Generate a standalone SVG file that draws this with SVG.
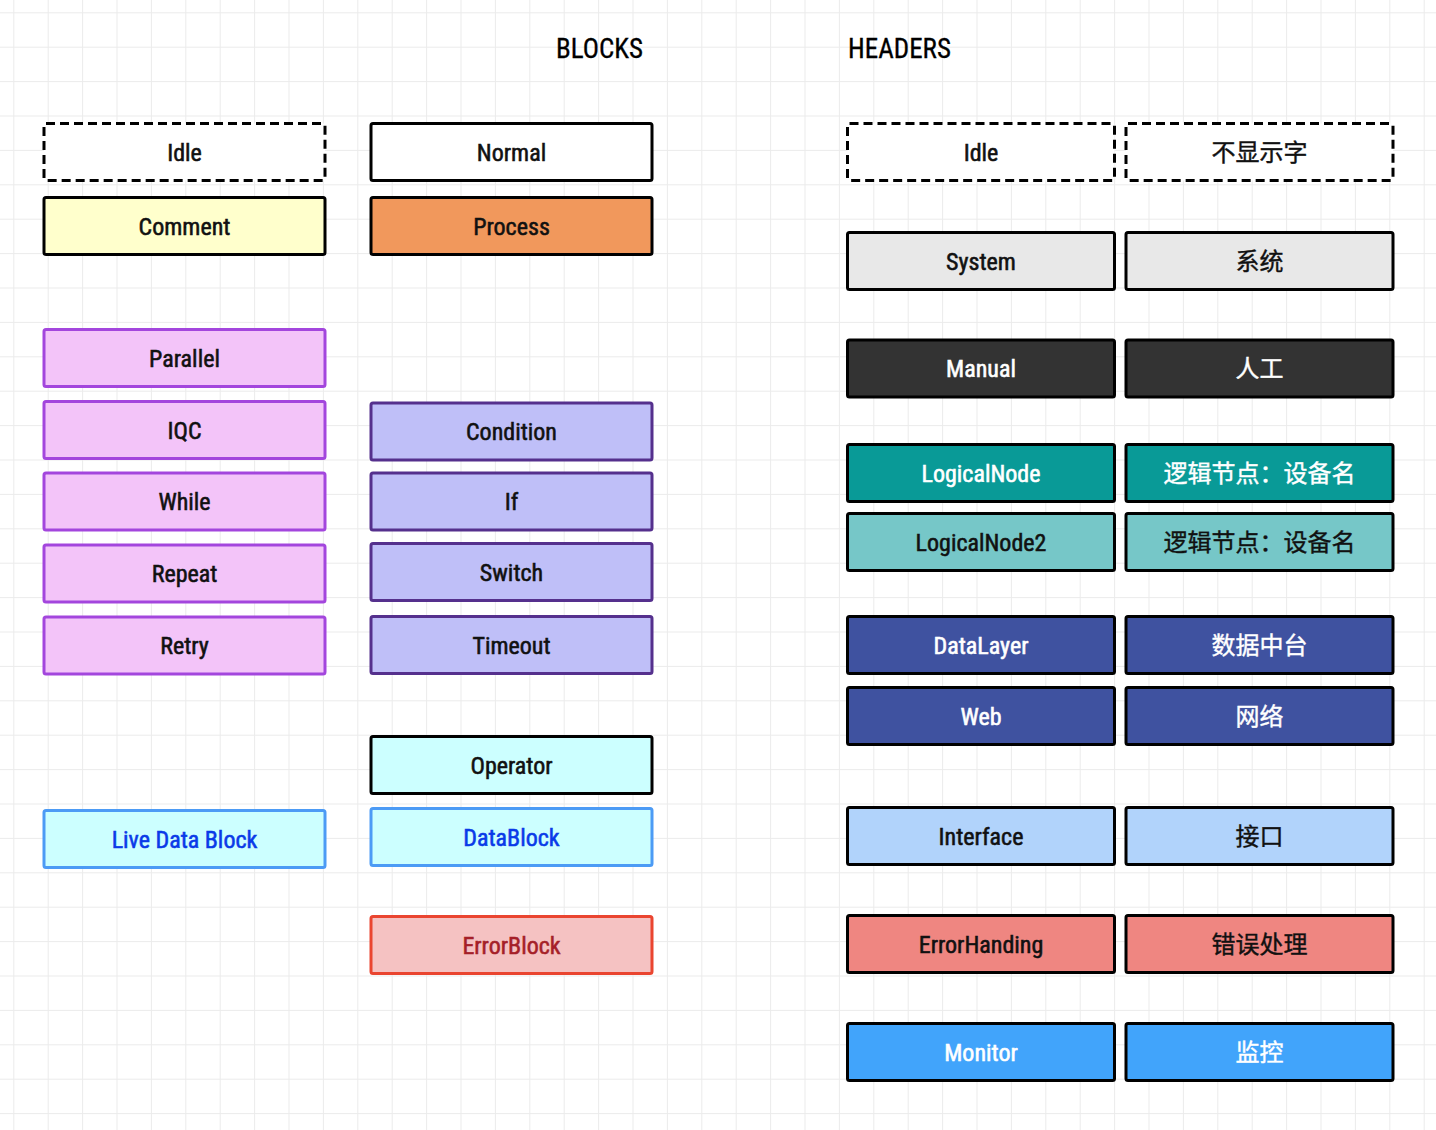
<svg xmlns="http://www.w3.org/2000/svg" width="1436" height="1130" viewBox="0 0 1436 1130">
<style>
.b{stroke:#000;stroke-width:3}
.d{fill:#fff;stroke:#000;stroke-width:3;stroke-dasharray:9 5}
text{font-family:"Roboto Condensed",Roboto,"Noto Sans CJK SC",sans-serif;font-size:24px;font-weight:400;text-anchor:middle;fill:#111;stroke:#111;stroke-width:0.55}
.cjk{font-family:"Noto Sans CJK SC",sans-serif;font-weight:400;font-size:24px;stroke-width:0.4}
.w{fill:#fff;stroke:#fff}
.bl{fill:#0a3ae8;stroke:#0a3ae8}
.rd{fill:#a51f28;stroke:#a51f28}
.t{font-size:27px;font-weight:400;text-anchor:start;fill:#000;stroke:#000;stroke-width:0.3}
.pk{fill:#f3c4f9;stroke:#a346dd;stroke-width:3}
.pu{fill:#bfbff8;stroke:#55308d;stroke-width:3}
</style>
<defs>
<pattern id="grid" x="13.3" y="12.3" width="34.4" height="34.4" patternUnits="userSpaceOnUse">
<path d="M0.5 0V34.4M0 0.5H34.4" stroke="#ebebeb" stroke-width="1" fill="none"/>
</pattern>
</defs>
<rect width="1436" height="1130" fill="#fff"/>
<rect width="1436" height="1130" fill="url(#grid)"/>
<text class="t" x="556" y="58">BLOCKS</text>
<text class="t" x="848" y="58">HEADERS</text>
<g id="connectors"/>
<g id="b-idle"><rect class="d" x="44" y="123.5" width="281" height="57" rx="2"/><text x="184.5" y="160.5">Idle</text></g>
<g id="b-comment"><rect class="b" fill="#ffffcc" x="44" y="197.5" width="281" height="57" rx="2"/><text x="184.5" y="234.5">Comment</text></g>
<g id="b-parallel"><rect class="pk" x="44" y="329.5" width="281" height="57" rx="2"/><text x="184.5" y="366.5">Parallel</text></g>
<g id="b-iqc"><rect class="pk" x="44" y="401.5" width="281" height="57" rx="2"/><text x="184.5" y="438.5">IQC</text></g>
<g id="b-while"><rect class="pk" x="44" y="473" width="281" height="57" rx="2"/><text x="184.5" y="510">While</text></g>
<g id="b-repeat"><rect class="pk" x="44" y="545" width="281" height="57" rx="2"/><text x="184.5" y="582">Repeat</text></g>
<g id="b-retry"><rect class="pk" x="44" y="617" width="281" height="57" rx="2"/><text x="184.5" y="654">Retry</text></g>
<g id="b-livedata"><rect fill="#ccffff" stroke="#4c9bf5" stroke-width="3" x="44" y="810.5" width="281" height="57" rx="2"/><text class="bl" x="184.5" y="847.5">Live Data Block</text></g>
<g id="b-normal"><rect class="b" fill="#fff" x="371" y="123.5" width="281" height="57" rx="2"/><text x="511.5" y="160.5">Normal</text></g>
<g id="b-process"><rect class="b" fill="#f1985c" x="371" y="197.5" width="281" height="57" rx="2"/><text x="511.5" y="234.5">Process</text></g>
<g id="b-condition"><rect class="pu" x="371" y="403" width="281" height="57" rx="2"/><text x="511.5" y="440">Condition</text></g>
<g id="b-if"><rect class="pu" x="371" y="473" width="281" height="57" rx="2"/><text x="511.5" y="510">If</text></g>
<g id="b-switch"><rect class="pu" x="371" y="543.5" width="281" height="57" rx="2"/><text x="511.5" y="580.5">Switch</text></g>
<g id="b-timeout"><rect class="pu" x="371" y="616.5" width="281" height="57" rx="2"/><text x="511.5" y="653.5">Timeout</text></g>
<g id="b-operator"><rect class="b" fill="#ccffff" x="371" y="736.5" width="281" height="57" rx="2"/><text x="511.5" y="773.5">Operator</text></g>
<g id="b-datablock"><rect fill="#ccffff" stroke="#4c9bf5" stroke-width="3" x="371" y="808.5" width="281" height="57" rx="2"/><text class="bl" x="511.5" y="845.5">DataBlock</text></g>
<g id="b-errorblock"><rect fill="#f5c2c2" stroke="#ea4530" stroke-width="3" x="371" y="916.5" width="281" height="57" rx="2"/><text class="rd" x="511.5" y="953.5">ErrorBlock</text></g>
<g id="h-idle"><rect class="d" x="847.5" y="123.5" width="267" height="57" rx="2"/><text x="981" y="160.5">Idle</text></g>
<g id="h-idle-cn"><rect class="d" x="1126" y="123.5" width="267" height="57" rx="2"/><text class="cjk" x="1259.5" y="160.5">不显示字</text></g>
<g id="h-system"><rect class="b" fill="#e8e8e8" x="847.5" y="232.5" width="267" height="57" rx="2"/><text x="981" y="269.5">System</text></g>
<g id="h-system-cn"><rect class="b" fill="#e8e8e8" x="1126" y="232.5" width="267" height="57" rx="2"/><text class="cjk" x="1259.5" y="269.5">系统</text></g>
<g id="h-manual"><rect class="b" fill="#333" x="847.5" y="340" width="267" height="57" rx="2"/><text class="w" x="981" y="377">Manual</text></g>
<g id="h-manual-cn"><rect class="b" fill="#333" x="1126" y="340" width="267" height="57" rx="2"/><text class="cjk w" x="1259.5" y="377">人工</text></g>
<g id="h-logical"><rect class="b" fill="#099a97" x="847.5" y="444.5" width="267" height="57" rx="2"/><text class="w" x="981" y="481.5">LogicalNode</text></g>
<g id="h-logical-cn"><rect class="b" fill="#099a97" x="1126" y="444.5" width="267" height="57" rx="2"/><text class="cjk w" x="1259.5" y="481.5">逻辑节点：设备名</text></g>
<g id="h-logical2"><rect class="b" fill="#76c7c8" x="847.5" y="513.5" width="267" height="57" rx="2"/><text x="981" y="550.5">LogicalNode2</text></g>
<g id="h-logical2-cn"><rect class="b" fill="#76c7c8" x="1126" y="513.5" width="267" height="57" rx="2"/><text class="cjk" x="1259.5" y="550.5">逻辑节点：设备名</text></g>
<g id="h-datalayer"><rect class="b" fill="#3f52a0" x="847.5" y="616.5" width="267" height="57" rx="2"/><text class="w" x="981" y="653.5">DataLayer</text></g>
<g id="h-datalayer-cn"><rect class="b" fill="#3f52a0" x="1126" y="616.5" width="267" height="57" rx="2"/><text class="cjk w" x="1259.5" y="653.5">数据中台</text></g>
<g id="h-web"><rect class="b" fill="#3f52a0" x="847.5" y="687.5" width="267" height="57" rx="2"/><text class="w" x="981" y="724.5">Web</text></g>
<g id="h-web-cn"><rect class="b" fill="#3f52a0" x="1126" y="687.5" width="267" height="57" rx="2"/><text class="cjk w" x="1259.5" y="724.5">网络</text></g>
<g id="h-interface"><rect class="b" fill="#b1d3fb" x="847.5" y="807.5" width="267" height="57" rx="2"/><text x="981" y="844.5">Interface</text></g>
<g id="h-interface-cn"><rect class="b" fill="#b1d3fb" x="1126" y="807.5" width="267" height="57" rx="2"/><text class="cjk" x="1259.5" y="844.5">接口</text></g>
<g id="h-error"><rect class="b" fill="#ef8681" x="847.5" y="915.5" width="267" height="57" rx="2"/><text x="981" y="952.5">ErrorHanding</text></g>
<g id="h-error-cn"><rect class="b" fill="#ef8681" x="1126" y="915.5" width="267" height="57" rx="2"/><text class="cjk" x="1259.5" y="952.5">错误处理</text></g>
<g id="h-monitor"><rect class="b" fill="#41a4fb" x="847.5" y="1023.5" width="267" height="57" rx="2"/><text class="w" x="981" y="1060.5">Monitor</text></g>
<g id="h-monitor-cn"><rect class="b" fill="#41a4fb" x="1126" y="1023.5" width="267" height="57" rx="2"/><text class="cjk w" x="1259.5" y="1060.5">监控</text></g>
</svg>
